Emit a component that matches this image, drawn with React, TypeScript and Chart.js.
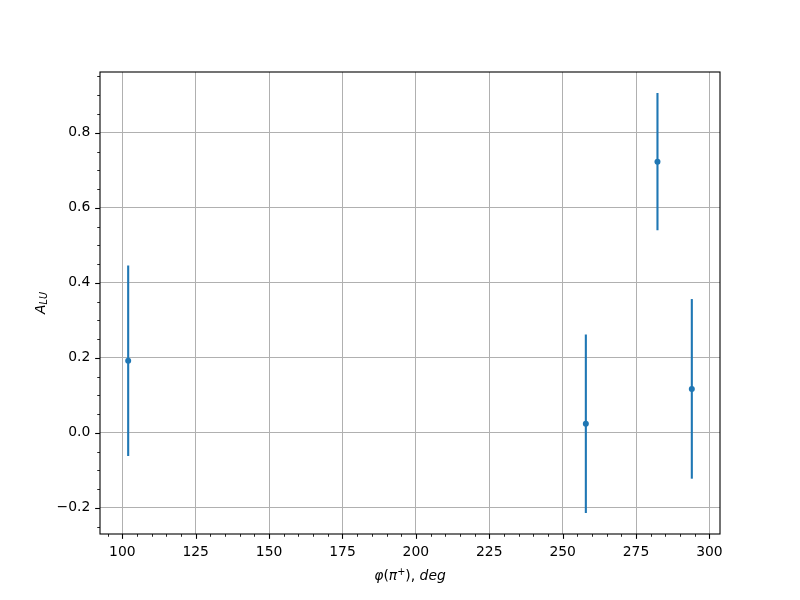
import React, { useEffect, useRef } from "react";
import { Chart, registerables } from "chart.js";

Chart.register(...registerables);

// Data
const phiValues = [102.0, 257.9, 282.3, 294.0];
const aluValues = [0.192, 0.024, 0.723, 0.117];
const aluErrors = [0.254, 0.238, 0.183, 0.2395];

// Tick labels
const xMajorTicks = [100, 125, 150, 175, 200, 225, 250, 275, 300];
const yMajorTicks = [-0.2, 0.0, 0.2, 0.4, 0.6, 0.8];
const xMinorStep = 5;
const yMinorStep = 0.05;

const COLOR = "#1f77b4";
const FONT = "'DejaVu Sans', sans-serif";

function range(lo: number, hi: number, step: number): number[] {
  const out: number[] = [];
  const start = Math.ceil(lo / step - 1e-9);
  const end = Math.floor(hi / step + 1e-9);
  for (let i = start; i <= end; i++) out.push(+(i * step).toFixed(6));
  return out;
}

type Seg = { text: string; italic?: boolean; size?: number; dy?: number };

function drawSegments(ctx: CanvasRenderingContext2D, segs: Seg[], cx: number, baseY: number) {
  const base = 13.9;
  let total = 0;
  const widths: number[] = [];
  for (const s of segs) {
    ctx.font = `${s.italic ? "italic " : ""}${s.size ?? base}px ${FONT}`;
    const w = ctx.measureText(s.text).width;
    widths.push(w);
    total += w;
  }
  let x = cx - total / 2;
  ctx.textAlign = "left";
  ctx.textBaseline = "alphabetic";
  segs.forEach((s, i) => {
    ctx.font = `${s.italic ? "italic " : ""}${s.size ?? base}px ${FONT}`;
    ctx.fillText(s.text, x, baseY + (s.dy ?? 0));
    x += widths[i];
  });
}

const xLo = Math.min(...phiValues);
const xHi = Math.max(...phiValues);
const yLo = Math.min(...aluValues.map((v, i) => v - aluErrors[i]));
const yHi = Math.max(...aluValues.map((v, i) => v + aluErrors[i]));
const X_MIN = xLo - 0.05 * (xHi - xLo);
const X_MAX = xHi + 0.05 * (xHi - xLo);
const Y_MIN = yLo - 0.05 * (yHi - yLo);
const Y_MAX = yHi + 0.05 * (yHi - yLo);

const mplPlugin = {
  id: "mplPlugin",
  beforeDatasetsDraw(chart: any) {
    const ctx = chart.ctx as CanvasRenderingContext2D;
    const xs = chart.scales.x;
    const ys = chart.scales.y;
    ctx.save();
    ctx.strokeStyle = COLOR;
    ctx.lineWidth = 2.1;
    ctx.lineCap = "butt";
    phiValues.forEach((xv, i) => {
      const px = xs.getPixelForValue(xv);
      const y1 = ys.getPixelForValue(aluValues[i] - aluErrors[i]);
      const y2 = ys.getPixelForValue(aluValues[i] + aluErrors[i]);
      ctx.beginPath();
      ctx.moveTo(px, y1);
      ctx.lineTo(px, y2);
      ctx.stroke();
    });
    ctx.restore();
  },
  afterDatasetsDraw(chart: any) {
    const ctx = chart.ctx as CanvasRenderingContext2D;
    const { left, right, top, bottom } = chart.chartArea;
    const xs = chart.scales.x;
    const ys = chart.scales.y;
    ctx.save();
    ctx.strokeStyle = "#000";
    // ticks
    const major = 4.86;
    const minor = 2.78;
    ctx.lineWidth = 1.1;
    xMajorTicks.forEach((v) => {
      const p = Math.round(xs.getPixelForValue(v)) + 0.5;
      ctx.beginPath();
      ctx.moveTo(p, bottom);
      ctx.lineTo(p, bottom + major);
      ctx.stroke();
    });
    yMajorTicks.forEach((v) => {
      const p = Math.round(ys.getPixelForValue(v)) + 0.5;
      ctx.beginPath();
      ctx.moveTo(left, p);
      ctx.lineTo(left - major, p);
      ctx.stroke();
    });
    ctx.lineWidth = 0.85;
    range(X_MIN, X_MAX, xMinorStep).forEach((v) => {
      if (xMajorTicks.some((m) => Math.abs(m - v) < 1e-6)) return;
      const p = Math.round(xs.getPixelForValue(v)) + 0.5;
      ctx.beginPath();
      ctx.moveTo(p, bottom);
      ctx.lineTo(p, bottom + minor);
      ctx.stroke();
    });
    range(Y_MIN, Y_MAX, yMinorStep).forEach((v) => {
      if (yMajorTicks.some((m) => Math.abs(m - v) < 1e-6)) return;
      const p = Math.round(ys.getPixelForValue(v)) + 0.5;
      ctx.beginPath();
      ctx.moveTo(left, p);
      ctx.lineTo(left - minor, p);
      ctx.stroke();
    });
    // frame
    ctx.lineWidth = 1.1;
    ctx.strokeRect(left, top, right - left, bottom - top);

    // axis labels
    ctx.fillStyle = "#000";
    drawSegments(
      ctx,
      [
        { text: "φ", italic: true },
        { text: "(" },
        { text: "π", italic: true },
        { text: "+", size: 9.7, dy: -5 },
        { text: ")" },
        { text: ", " },
        { text: "deg", italic: true },
      ],
      (left + right) / 2,
      580
    );
    ctx.save();
    ctx.translate(44.5, (top + bottom) / 2);
    ctx.rotate(-Math.PI / 2);
    drawSegments(
      ctx,
      [
        { text: "A", italic: true },
        { text: "LU", italic: true, size: 9.7, dy: 2.5 },
      ],
      0,
      0
    );
    ctx.restore();
    ctx.restore();
  },
};

export default function App() {
  const ref = useRef<HTMLCanvasElement | null>(null);

  useEffect(() => {
    document.body.style.margin = "0";
    const canvas = ref.current;
    if (!canvas) return;
    const chart = new Chart(canvas, {
      type: "scatter",
      data: {
        datasets: [
          {
            data: phiValues.map((x, i) => ({ x, y: aluValues[i] })),
            backgroundColor: COLOR,
            borderColor: COLOR,
            borderWidth: 0,
            pointRadius: 3,
            pointHoverRadius: 3,
          },
        ],
      },
      options: {
        animation: false,
        responsive: false,
        devicePixelRatio: 1,
        layout: { padding: { left: 0, right: 80, top: 72, bottom: 0 } },
        plugins: {
          legend: { display: false },
          tooltip: { enabled: false },
          title: { display: false },
        },
        scales: {
          x: {
            type: "linear",
            min: X_MIN,
            max: X_MAX,
            afterBuildTicks: (s: any) => {
              s.ticks = xMajorTicks.map((v) => ({ value: v }));
            },
            afterFit: (s: any) => {
              s.height = 66;
            },
            border: { display: false },
            grid: {
              color: "#b0b0b0",
              lineWidth: 1,
              drawTicks: true,
              tickLength: 4.86,
              tickColor: "rgba(0,0,0,0)",
            },
            ticks: {
              padding: 4.86,
              color: "#000",
              font: { family: FONT, size: 13.9 },
              maxRotation: 0,
              autoSkip: false,
              callback: (v: any) => String(v),
            },
          },
          y: {
            type: "linear",
            min: Y_MIN,
            max: Y_MAX,
            afterBuildTicks: (s: any) => {
              s.ticks = yMajorTicks.map((v) => ({ value: v }));
            },
            afterFit: (s: any) => {
              s.width = 100;
            },
            border: { display: false },
            grid: {
              color: "#b0b0b0",
              lineWidth: 1,
              drawTicks: true,
              tickLength: 4.86,
              tickColor: "rgba(0,0,0,0)",
            },
            ticks: {
              padding: 4.86,
              color: "#000",
              font: { family: FONT, size: 13.9 },
              autoSkip: false,
              callback: (v: any) => Number(v).toFixed(1).replace("-", "\u2212"),
            },
          },
        },
      },
      plugins: [mplPlugin],
    });
    return () => chart.destroy();
  }, []);

  return (
    <div style={{ position: "fixed", left: 0, top: 0, width: 800, height: 600, background: "#fff" }}>
      <canvas ref={ref} width={800} height={600} />
    </div>
  );
}
